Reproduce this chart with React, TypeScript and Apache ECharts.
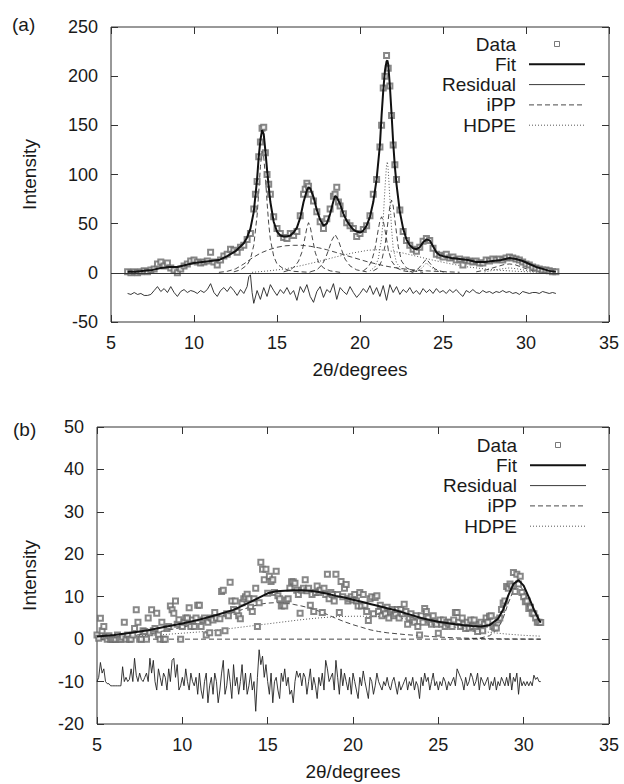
import React, { useEffect, useRef } from "react";
import * as echarts from "echarts";

// ---------- Panel (a) ----------
const dataA: number[][] = [
  [6.0,1],[6.2,0],[6.4,1],[6.6,0],[6.8,1],[7.0,2],[7.2,1],[7.4,3],[7.6,4],[7.8,9],[8.0,11],[8.2,7],[8.4,10],[8.6,5],[8.8,3],[9.0,0],[9.2,4],[9.4,7],[9.6,9],[9.8,12],
  [10.0,13],[10.2,11],[10.4,10],[10.6,11],[10.8,12],[11.0,21],[11.2,11],[11.4,8],[11.6,13],[11.8,17],[12.0,19],[12.2,24],[12.4,23],[12.6,21],[12.8,26],[13.0,28],[13.2,34],[13.4,40],[13.6,65],[13.7,80],
  [13.8,93],[13.9,118],[14.0,133],[14.1,147],[14.2,148],[14.3,122],[14.4,100],[14.5,90],[14.6,80],[14.8,57],[15.0,45],[15.2,40],[15.4,36],[15.6,35],[15.8,40],[16.0,38],[16.2,42],[16.4,58],[16.6,80],[16.7,85],
  [16.8,91],[16.9,88],[17.0,80],[17.2,73],[17.4,62],[17.6,52],[17.8,45],[18.0,55],[18.2,65],[18.4,78],[18.5,80],[18.6,87],[18.7,72],[18.8,68],[19.0,60],[19.2,51],[19.4,48],[19.6,45],[19.8,37],[20.0,40],
  [20.2,44],[20.4,48],[20.6,58],[20.8,80],[21.0,95],[21.2,128],[21.3,150],[21.4,188],[21.5,200],[21.6,221],[21.7,208],[21.8,190],[21.9,160],[22.0,130],[22.1,110],[22.2,95],[22.4,64],[22.6,42],[22.8,33],[23.0,28],
  [23.2,24],[23.4,22],[23.6,26],[23.8,32],[24.0,35],[24.2,33],[24.4,25],[24.6,19],[24.8,18],[25.0,16],[25.2,19],[25.4,15],[25.6,16],[25.8,13],[26.0,14],[26.2,8],[26.4,13],[26.6,12],[26.8,11],[27.0,12],
  [27.2,10],[27.4,10],[27.6,13],[27.8,12],[28.0,14],[28.2,13],[28.4,14],[28.6,13],[28.8,15],[29.0,16],[29.2,15],[29.4,14],[29.6,13],[29.8,11],[30.0,9],[30.2,8],[30.4,6],[30.6,5],[30.8,4],[31.0,3],
  [31.2,3],[31.4,2],[31.6,1],[31.8,1]
];

const fitA: number[][] = [
  [6.0,1],[6.5,1],[7.0,2],[7.5,3],[8.0,5],[8.5,6],[9.0,6],[9.5,8],[10.0,10],[10.5,11],[11.0,12],[11.5,13],[12.0,17],[12.5,22],[13.0,30],[13.2,36],[13.4,45],[13.6,62],[13.8,95],[13.9,118],
  [14.0,135],[14.1,145],[14.2,141],[14.3,124],[14.4,105],[14.5,88],[14.6,72],[14.8,52],[15.0,42],[15.2,38],[15.4,37],[15.6,37],[15.8,38],[16.0,41],[16.2,46],[16.4,56],[16.6,72],[16.8,84],[16.9,87],[17.0,86],
  [17.2,77],[17.4,64],[17.6,54],[17.8,48],[18.0,50],[18.2,60],[18.4,73],[18.5,78],[18.6,77],[18.8,70],[19.0,60],[19.2,53],[19.4,48],[19.6,44],[19.8,42],[20.0,41],[20.2,43],[20.4,48],[20.6,57],[20.8,72],
  [21.0,95],[21.2,130],[21.3,160],[21.4,185],[21.5,205],[21.6,215],[21.65,216],[21.7,212],[21.8,190],[21.9,162],[22.0,132],[22.1,108],[22.2,90],[22.4,62],[22.6,45],[22.8,34],[23.0,28],[23.2,25],[23.4,24],[23.6,26],
  [23.8,31],[24.0,34],[24.2,33],[24.4,27],[24.6,21],[24.8,18],[25.0,17],[25.5,15],[26.0,14],[26.5,13],[27.0,11],[27.5,11],[28.0,12],[28.5,13],[29.0,15],[29.4,14],[29.8,12],[30.2,9],[30.6,6],[31.0,4],
  [31.4,2],[31.8,1]
];

const residualA: number[][] = [
  [6.0,-21],[6.2,-22],[6.4,-20],[6.6,-22],[6.8,-21],[7.0,-23],[7.2,-23],[7.4,-22],[7.6,-18],[7.8,-14],[8.0,-19],[8.2,-16],[8.4,-20],[8.6,-14],[8.8,-20],[9.0,-24],[9.2,-19],[9.4,-17],[9.6,-20],[9.8,-18],
  [10.0,-19],[10.2,-21],[10.4,-18],[10.6,-20],[10.8,-17],[11.0,-11],[11.2,-20],[11.4,-24],[11.6,-18],[11.8,-15],[12.0,-19],[12.2,-14],[12.4,-18],[12.6,-23],[12.8,-17],[13.0,-21],[13.2,-14],[13.3,-4],[13.4,-2],[13.5,-20],
  [13.6,-31],[13.8,-18],[14.0,-27],[14.2,-15],[14.4,-24],[14.6,-12],[14.8,-18],[15.0,-23],[15.2,-17],[15.4,-21],[15.6,-15],[15.8,-22],[16.0,-18],[16.2,-28],[16.4,-14],[16.6,-20],[16.8,-12],[17.0,-24],[17.2,-30],[17.4,-19],
  [17.6,-14],[17.8,-25],[18.0,-17],[18.2,-20],[18.4,-11],[18.6,-27],[18.8,-15],[19.0,-19],[19.2,-22],[19.4,-14],[19.6,-20],[19.8,-25],[20.0,-21],[20.2,-16],[20.4,-20],[20.6,-13],[20.8,-22],[21.0,-15],[21.2,-24],[21.4,-13],
  [21.6,-28],[21.8,-12],[22.0,-20],[22.2,-14],[22.4,-22],[22.6,-17],[22.8,-20],[23.0,-15],[23.2,-21],[23.4,-18],[23.6,-22],[23.8,-16],[24.0,-20],[24.2,-17],[24.4,-21],[24.6,-16],[24.8,-20],[25.0,-18],[25.2,-21],[25.4,-17],
  [25.6,-20],[25.8,-17],[26.0,-21],[26.2,-24],[26.4,-18],[26.6,-20],[26.8,-17],[27.0,-20],[27.2,-21],[27.4,-18],[27.6,-20],[27.8,-19],[28.0,-21],[28.2,-19],[28.4,-20],[28.6,-18],[28.8,-20],[29.0,-19],[29.2,-21],[29.4,-20],
  [29.6,-22],[29.8,-19],[30.0,-20],[30.2,-21],[30.4,-20],[30.6,-20],[30.8,-21],[31.0,-19],[31.2,-20],[31.4,-21],[31.6,-20],[31.8,-21]
];

const ippA14: number[][] = [[12.4,1],[12.8,3],[13.2,8],[13.4,14],[13.6,28],[13.8,58],[13.9,82],[14.0,108],[14.1,124],[14.2,118],[14.3,98],[14.4,72],[14.5,50],[14.6,34],[14.8,17],[15.0,9],[15.4,4],[16.0,1.5],[17.0,0.5]];
const ippA17: number[][] = [[15.4,1],[15.8,3],[16.1,7],[16.3,12],[16.5,21],[16.7,37],[16.8,46],[16.9,51],[17.0,47],[17.1,38],[17.3,21],[17.5,11],[17.8,5],[18.2,2],[18.8,0.5]];
const ippA18: number[][] = [[17.0,1],[17.4,3],[17.7,8],[17.9,14],[18.1,23],[18.3,33],[18.5,39],[18.7,33],[18.9,23],[19.1,14],[19.4,7],[19.8,3],[20.4,1]];
const ippAmorphA: number[][] = [[11.5,0.5],[12.0,1.5],[12.5,4],[13.0,9],[13.5,15],[14.0,20],[14.5,23.5],[15.0,26],[15.5,27.5],[16.0,28],[16.5,28],[17.0,27],[17.5,25.5],[18.0,23.5],[18.5,21],[19.0,18.5],[19.5,16],[20.0,13.5],[20.5,11],[21.0,9],[21.5,7],[22.0,5.5],[22.5,4.3],[23.0,3.3],[24.0,2],[25.0,1.2],[26.0,0.6]];
const ippA21: number[][] = [[20.2,2],[20.5,6],[20.7,12],[20.9,24],[21.1,44],[21.2,53],[21.3,57],[21.4,53],[21.5,44],[21.7,24],[21.9,12],[22.2,5],[22.6,2],[23.2,0.5]];
const ippA22: number[][] = [[20.8,2],[21.1,5],[21.3,12],[21.5,27],[21.7,54],[21.8,68],[21.9,74],[22.0,68],[22.1,54],[22.3,27],[22.5,12],[22.8,5],[23.2,2],[23.8,0.5]];
const ippA24: number[][] = [[23.0,1],[23.5,4],[23.8,10],[24.0,14],[24.2,10],[24.5,4],[25.0,1]];
const ippA29: number[][] = [[27.0,1],[27.6,3],[28.2,6],[28.7,8.5],[29.0,9],[29.3,8.5],[29.7,6],[30.2,3],[30.8,1]];

const hdpeA21: number[][] = [[20.6,2],[20.9,6],[21.1,14],[21.3,35],[21.4,55],[21.5,85],[21.6,110],[21.65,113],[21.7,105],[21.8,75],[21.9,45],[22.0,25],[22.2,10],[22.5,4],[23.0,1]];
const hdpeAmorphA: number[][] = [[13.5,0.5],[14.5,2],[15.5,4],[16.5,7.5],[17.5,11.5],[18.5,16],[19.5,20],[20.5,23],[21.0,23.5],[21.5,23],[22.5,20.5],[23.5,16.5],[24.5,12.5],[25.5,9],[26.5,6],[27.5,4],[28.5,2.5],[29.5,1.5],[30.5,0.8],[31.5,0.3]];
const hdpeA24: number[][] = [[23.2,1],[23.6,3],[23.9,8],[24.0,10],[24.2,7],[24.6,2],[25.2,0.5]];
const hdpeA29: number[][] = [[27.5,1],[28.5,4],[29.0,5],[29.5,4],[30.5,1]];

// ---------- Panel (b) ----------
const dataBStart = 5.0;
const dataBStep = 0.1;
const dataBY: number[] = [
  1.0,0.2,4.9,2.0,3.0,0.5,0.0,0.8,0.0,0.0,
  0.0,0.0,1.0,0.0,0.0,0.5,4.0,0.0,1.0,0.0,
  0.0,1.0,2.5,6.9,4.0,0.0,0.0,2.0,1.8,0.0,
  5.0,1.5,6.9,2.0,2.5,6.1,1.0,0.0,4.0,0.0,
  0.0,2.5,3.0,7.8,6.9,6.1,9.0,3.5,4.6,0.0,
  3.0,4.0,5.0,5.0,7.4,3.0,4.5,3.0,5.0,8.0,
  8.0,3.0,4.5,5.0,1.0,4.0,1.5,5.0,4.5,6.3,
  5.0,1.5,4.8,11.2,11.5,2.0,6.0,5.5,13.4,9.0,
  7.0,9.0,6.5,5.5,4.8,8.6,9.5,10.0,10.6,9.5,
  7.5,6.5,9.5,12.0,3.0,8.6,18.1,16.5,14.0,16.5,
  10.8,14.8,13.6,14.0,11.0,16.0,10.2,9.5,7.8,8.0,
  7.8,9.2,9.5,12.0,13.5,13.5,13.2,11.5,10.5,6.1,
  11.5,12.0,14.0,11.4,12.0,8.0,10.5,6.5,11.0,12.5,
  11.0,11.5,6.3,12.0,10.5,15.3,9.5,11.0,10.5,9.0,
  15.3,10.5,6.3,13.6,10.0,12.0,12.9,9.0,9.5,10.0,
  9.2,10.5,9.0,7.8,11.0,7.8,10.5,8.0,6.5,4.4,
  9.5,10.0,6.0,9.8,10.2,6.5,8.0,5.5,7.0,6.0,
  7.5,5.0,6.5,7.0,5.5,6.0,7.0,5.0,7.0,6.0,
  8.2,6.5,3.5,5.0,6.0,4.5,4.0,5.5,3.0,1.0,
  5.5,4.0,7.2,6.5,5.0,4.0,3.5,5.5,4.0,3.5,
  1.4,4.5,3.5,4.5,3.0,4.0,3.5,4.0,3.0,4.5,
  6.3,6.3,4.0,3.0,5.0,3.5,2.5,4.0,2.6,4.5,
  3.0,4.5,2.5,1.8,3.5,4.0,2.0,3.5,5.0,4.0,
  5.4,5.5,3.0,2.6,2.6,4.5,5.0,7.0,8.5,9.0,
  12.4,12.0,13.0,12.5,15.7,11.2,15.3,13.0,14.8,11.0,
  10.0,8.8,9.0,7.2,7.5,6.1,6.0,5.0,4.0,4.0,
  3.9
];
const residualBY: number[] = [
  -10,-9,-5.5,-8,-7,-10,-10.5,-10.5,-11,-11,
  -11,-11,-11,-11,-11,-6.5,-10,-9,-10,-9.5,
  -7,-10,-4.5,-8.5,-10,-8,-9.5,-10,-9,-8,
  -10,-4.5,-8,-5,-10,-12,-7,-9,-11,-8,
  -9,-12,-7,-10,-5,-4.5,-9,-6,-12,-11,
  -9,-11,-7,-10,-12,-8,-10,-11,-9,-13,
  -8,-12,-14,-10,-8,-15,-11,-9,-13,-8,
  -10,-15,-12,-8,-5,-13,-11,-7,-10,-14,
  -6,-11,-9,-13,-10,-6,-12,-8,-13,-11,
  -8,-12,-10,-17,-9,-2.5,-6,-4,-9,-6,
  -10,-13,-8,-15,-10,-9,-12,-14,-8,-10,
  -7,-11,-9,-13,-12,-15,-10,-7.5,-9,-8,
  -11,-8,-9,-13,-10,-7,-12,-9,-11,-14,
  -9,-11,-8,-12,-5,-7,-10,-9,-8,-12,
  -5,-9,-13,-7,-11,-8,-10,-12,-9,-13,
  -8,-10,-12,-14,-9,-11,-7.5,-10,-12,-14,
  -9,-10,-13,-11,-8,-10,-11,-12,-10,-11,
  -9,-11,-12,-10,-9,-11,-13,-10,-12,-11,
  -10,-9,-12,-10,-11,-9,-12,-10,-11,-14,
  -9,-11,-8,-10,-9,-12,-10,-8,-11,-10,
  -12,-10,-11,-9,-10,-12,-10,-11,-10,-9,
  -11,-7,-8,-9,-10,-12,-9,-11,-10,-8,
  -9,-11,-10,-8,-12,-9,-10,-11,-10,-9,
  -12,-10,-11,-9,-12,-10,-11,-9,-10,-11,
  -9,-11,-8,-12,-9,-10,-8,-13,-9,-11,
  -10,-11,-10,-11,-10,-11,-8.5,-9.5,-9,-10,
  -10
];

const fitB: number[][] = [
  [5.0,0.6],[6,1.0],[7,1.5],[8,2.1],[9,2.9],[10,3.7],[11,4.6],[12,5.7],[13,6.9],[14,8.8],[15,10.8],[15.5,11.3],[16,11.4],[16.5,11.5],[17,11.5],[17.5,11.4],[18,11.1],[18.5,10.7],[19,10.2],[19.5,9.8],
  [20,9.3],[20.5,8.8],[21,8.3],[21.5,7.8],[22,7.3],[22.5,6.8],[23,6.2],[23.5,5.6],[24,5.0],[24.5,4.5],[25,4.1],[25.5,3.8],[26,3.5],[26.5,3.3],[27,3.1],[27.5,3.0],[28,3.3],[28.5,4.8],[28.8,7.0],[29.1,10.3],
  [29.4,13.0],[29.7,13.9],[30.0,12.6],[30.3,9.9],[30.6,7.0],[30.9,4.5],[31.0,3.9]
];
const ippAmorphB: number[][] = [[5,0.3],[6,0.5],[7,0.8],[8,1.3],[9,2.0],[10,2.8],[11,3.8],[12,5.0],[13,6.3],[14,7.6],[14.5,8.2],[15,8.5],[15.5,8.6],[16,8.5],[16.5,8.2],[17,7.8],[17.5,7.3],[18,6.6],[18.5,5.8],[19,4.9],[19.5,4.1],[20,3.4],[20.5,2.8],[21,2.2],[21.5,1.8],[22,1.5],[23,1.1],[24,0.8],[25,0.5],[26,0.3],[27,0.2],[28,0.1],[29,0.05],[31,0]];
const ippPeakB: number[][] = [[26.5,0],[27,0.1],[27.5,0.3],[28,0.8],[28.5,2.5],[28.8,5],[29.1,8.5],[29.4,11.5],[29.7,12.8],[30.0,11.5],[30.3,8.8],[30.6,6.0],[30.9,3.8],[31.0,3.2]];
const ippZeroB: number[][] = [[5,0],[31,0]];
const hdpeB: number[][] = [[5,0.4],[6,0.5],[7,0.7],[8,0.9],[9,1.1],[10,1.4],[11,1.7],[12,2.1],[13,2.6],[14,3.1],[15,3.6],[16,4.1],[17,4.6],[18,5.0],[19,5.3],[20,5.4],[21,5.4],[22,5.2],[23,4.8],[24,4.2],[25,3.5],[26,2.8],[27,2.2],[28,1.6],[29,1.2],[30,0.9],[31,0.7]];

const legendLabels = ["Data", "Fit", "Residual", "iPP", "HDPE"];
const panelLabels = ["(a)", "(b)"];

const FONT = '"Liberation Sans", Arial, Helvetica, sans-serif';
const INK = "#1a1a1a";
const TICK_FS = 18;
const TITLE_FS = 19;

const styles: Record<string, any> = {
  Fit: { color: "#111", width: 2, type: "solid" },
  Residual: { color: "#222", width: 0.9, type: "solid" },
  iPP: { color: "#333", width: 0.9, type: [5, 3] },
  HDPE: { color: "#444", width: 0.9, type: [1, 2] },
};

function lineS(kind: string, data: number[][], ax: number, z: number, extra: any = {}) {
  return {
    type: "line",
    name: kind,
    xAxisIndex: ax,
    yAxisIndex: ax,
    data,
    showSymbol: false,
    symbol: "none",
    smooth: false,
    z,
    lineStyle: { ...styles[kind] },
    ...extra,
  };
}

function scatterS(data: number[][], ax: number) {
  return {
    type: "scatter",
    name: "Data",
    xAxisIndex: ax,
    yAxisIndex: ax,
    data,
    symbol: "emptyRect",
    symbolSize: 5,
    z: 3,
    itemStyle: { color: "#6a6a6a", borderWidth: 0.9 },
  };
}

function xAx(grid: number, pos: "bottom" | "top") {
  const main = pos === "bottom";
  return {
    type: "value",
    gridIndex: grid,
    position: pos,
    min: 5,
    max: 35,
    interval: 5,
    axisLine: { show: false, onZero: false },
    axisTick: { show: true, inside: true, length: 7, lineStyle: { color: "#333" } },
    axisLabel: { show: main, fontSize: TICK_FS, color: INK, fontFamily: FONT, margin: 12 },
    splitLine: { show: false },
    name: main ? "2θ/degrees" : "",
    nameLocation: "middle",
    nameGap: 38,
    nameTextStyle: { fontSize: TITLE_FS, color: INK, fontFamily: FONT },
  };
}

function yAx(grid: number, pos: "left" | "right", min: number, max: number, interval: number, gap: number) {
  const main = pos === "left";
  return {
    type: "value",
    gridIndex: grid,
    position: pos,
    min,
    max,
    interval,
    axisLine: { show: false, onZero: false },
    axisTick: { show: true, inside: true, length: 7, lineStyle: { color: "#333" } },
    axisLabel: { show: main, fontSize: TICK_FS, color: INK, fontFamily: FONT, margin: 13 },
    splitLine: { show: false },
    name: main ? "Intensity" : "",
    nameLocation: "middle",
    nameRotate: 90,
    nameGap: gap,
    nameTextStyle: { fontSize: TITLE_FS, color: INK, fontFamily: FONT },
  };
}

function legendGraphic(top: number, textRight: number, lineX1: number, lineX2: number) {
  const els: any[] = [];
  legendLabels.forEach((lab, i) => {
    const y = top + i * 20.3;
    els.push({
      type: "text",
      x: textRight,
      y,
      style: { text: lab, fontSize: TITLE_FS, fontFamily: FONT, fill: INK, align: "right", verticalAlign: "middle" },
    });
    if (lab === "Data") {
      els.push({
        type: "rect",
        shape: { x: (lineX1 + lineX2) / 2 - 2.5, y: y - 2.5, width: 5, height: 5 },
        style: { fill: "#fff", stroke: "#6a6a6a", lineWidth: 0.9 },
      });
    } else {
      const s = styles[lab];
      els.push({
        type: "line",
        shape: { x1: lineX1, y1: y, x2: lineX2, y2: y },
        style: { stroke: s.color, lineWidth: s.width, lineDash: Array.isArray(s.type) ? s.type : null },
      });
    }
  });
  return els;
}

export default function App() {
  const ref = useRef<HTMLDivElement>(null);
  useEffect(() => {
    document.body.style.margin = "0";
    if (!ref.current) return;
    const chart = echarts.init(ref.current, null, { renderer: "svg" });
    const dataB = dataBY.map((v, i) => [+(dataBStart + i * dataBStep).toFixed(2), v]);
    const residualB = residualBY.map((v, i) => [+(dataBStart + i * dataBStep).toFixed(2), v]);

    const series: any[] = [
      // panel a
      lineS("iPP", ippA14, 0, 1),
      lineS("iPP", ippA17, 0, 1),
      lineS("iPP", ippA18, 0, 1),
      lineS("iPP", ippAmorphA, 0, 1),
      lineS("iPP", ippA21, 0, 1),
      lineS("iPP", ippA22, 0, 1),
      lineS("iPP", ippA24, 0, 1),
      lineS("iPP", ippA29, 0, 1),
      lineS("HDPE", hdpeA21, 0, 1),
      lineS("HDPE", hdpeAmorphA, 0, 1),
      lineS("HDPE", hdpeA24, 0, 1),
      lineS("HDPE", hdpeA29, 0, 1),
      scatterS(dataA, 0),
      lineS("Fit", fitA, 0, 4, {
        markLine: {
          silent: true,
          symbol: "none",
          label: { show: false },
          lineStyle: { color: "#333", width: 1, type: "solid" },
          data: [{ yAxis: 0 }],
        },
      }),
      lineS("Residual", residualA, 0, 4),
      // panel b
      lineS("iPP", ippZeroB, 2, 1),
      lineS("iPP", ippAmorphB, 2, 1),
      lineS("iPP", ippPeakB, 2, 1),
      lineS("HDPE", hdpeB, 2, 1),
      scatterS(dataB, 2),
      lineS("Fit", fitB, 2, 4),
      lineS("Residual", residualB, 2, 4),
    ];

    const option: any = {
      animation: false,
      backgroundColor: "#fff",
      textStyle: { fontFamily: FONT },
      grid: [
        { left: 111, top: 27, width: 498, height: 295, show: true, borderColor: "#333", borderWidth: 1, backgroundColor: "transparent" },
        { left: 97, top: 427, width: 512, height: 297, show: true, borderColor: "#333", borderWidth: 1, backgroundColor: "transparent" },
      ],
      xAxis: [xAx(0, "bottom"), xAx(0, "top"), xAx(1, "bottom"), xAx(1, "top")],
      yAxis: [
        yAx(0, "left", -50, 250, 50, 72),
        yAx(0, "right", -50, 250, 50, 0),
        yAx(1, "left", -20, 50, 10, 58),
        yAx(1, "right", -20, 50, 10, 0),
      ],
      series,
      graphic: [
        { type: "text", x: 12, y: 24, style: { text: panelLabels[0], fontSize: TITLE_FS, fontFamily: FONT, fill: INK, verticalAlign: "middle" } },
        { type: "text", x: 13, y: 429, style: { text: panelLabels[1], fontSize: TITLE_FS, fontFamily: FONT, fill: INK, verticalAlign: "middle" } },
        ...legendGraphic(44, 516, 529, 585),
        ...legendGraphic(445, 517, 530, 586),
      ],
    };
    chart.setOption(option);
    return () => chart.dispose();
  }, []);
  return <div ref={ref} style={{ width: 624, height: 784 }} />;
}
